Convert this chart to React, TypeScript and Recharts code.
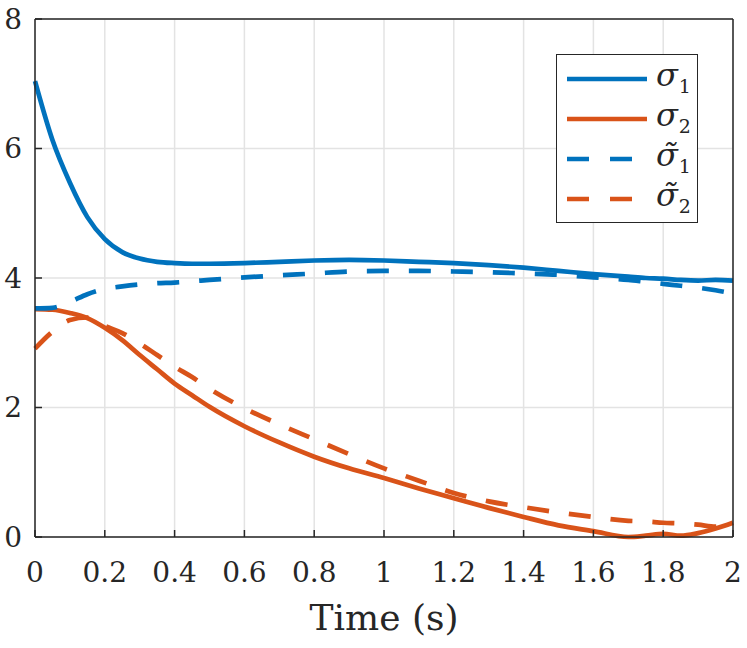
import { LineChart, Line, XAxis, YAxis, CartesianGrid, Legend } from 'recharts';

// sample times (s)
const time = [
  0, 0.05, 0.1, 0.15, 0.2, 0.25, 0.3, 0.35, 0.4, 0.45, 0.5, 0.6, 0.7, 0.8, 0.9,
  1.0, 1.1, 1.2, 1.3, 1.4, 1.5, 1.6, 1.7, 1.75, 1.8, 1.85, 1.9, 1.95, 2.0,
];
const sigma1 = [
  7.04, 6.13, 5.47, 4.94, 4.6, 4.4, 4.3, 4.25, 4.23, 4.22, 4.22, 4.23, 4.25, 4.27, 4.28,
  4.27, 4.25, 4.23, 4.2, 4.16, 4.11, 4.06, 4.02, 4.0, 3.99, 3.97, 3.96, 3.97, 3.96,
];
const sigma2 = [
  3.52, 3.51, 3.46, 3.38, 3.23, 3.04, 2.81, 2.59, 2.37, 2.19, 2.01, 1.71, 1.46, 1.24, 1.06,
  0.91, 0.75, 0.6, 0.45, 0.31, 0.18, 0.09, 0.0, 0.02, 0.05, 0.02, 0.06, 0.13, 0.22,
];
const sigma1Est = [
  3.53, 3.54, 3.63, 3.75, 3.83, 3.87, 3.9, 3.92, 3.93, 3.95, 3.97, 4.01, 4.04, 4.07, 4.1,
  4.11, 4.11, 4.1, 4.09, 4.07, 4.05, 4.01, 3.97, 3.94, 3.91, 3.88, 3.85, 3.81, 3.76,
];
const sigma2Est = [
  2.91, 3.17, 3.35, 3.39, 3.26, 3.15, 2.99, 2.81, 2.63, 2.47, 2.29, 1.99, 1.74, 1.51, 1.28,
  1.06, 0.87, 0.68, 0.55, 0.46, 0.38, 0.31, 0.25, 0.24, 0.22, 0.21, 0.19, 0.16, 0.17,
];

const xTicks = [0, 0.2, 0.4, 0.6, 0.8, 1, 1.2, 1.4, 1.6, 1.8, 2];
const yTicks = [0, 2, 4, 6, 8];

const data = time.map((t, i) => ({
  t,
  s1: sigma1[i],
  s2: sigma2[i],
  s1e: sigma1Est[i],
  s2e: sigma2Est[i],
}));

const BLUE = '#0072BD';
const ORANGE = '#D95319';
const INK = '#262626';
const FONT = '"DejaVu Serif", serif';
const DASH = '22 20';
const LW = 4.7;

const legendRows = [
  { key: 's1', color: BLUE, dashed: false, tilde: false, sub: '1' },
  { key: 's2', color: ORANGE, dashed: false, tilde: false, sub: '2' },
  { key: 's1e', color: BLUE, dashed: true, tilde: true, sub: '1' },
  { key: 's2e', color: ORANGE, dashed: true, tilde: true, sub: '2' },
];

const LegendBox = () => (
  <div
    style={{
      boxSizing: 'border-box',
      width: 142,
      height: 169,
      border: `1.5px solid ${INK}`,
      background: '#fff',
      paddingTop: 4,
    }}
  >
    {legendRows.map((r) => (
      <div key={r.key} style={{ display: 'flex', alignItems: 'center', height: 40 }}>
        <svg width={80} height={8} style={{ marginLeft: 10, display: 'block' }}>
          <line
            x1={0} y1={4} x2={80} y2={4}
            stroke={r.color}
            strokeWidth={LW}
            strokeDasharray={r.dashed ? '22 21' : undefined}
          />
        </svg>
        <span
          style={{
            marginLeft: 9,
            fontFamily: FONT,
            fontSize: 32,
            fontStyle: 'italic',
            color: INK,
            lineHeight: 1,
            position: 'relative',
            top: -4,
            whiteSpace: 'nowrap',
          }}
        >
          {r.tilde ? 'σ\u0303' : 'σ'}
          <span style={{ fontSize: 19, fontStyle: 'normal', position: 'relative', top: 7, marginLeft: 1 }}>{r.sub}</span>
        </span>
      </div>
    ))}
  </div>
);

const tickStyle = { fill: INK, fontSize: 28, fontFamily: FONT };

export default function App() {
  return (
    <div style={{ position: 'absolute', left: 0, top: 0, background: '#fff' }}>
      <LineChart
        width={747}
        height={648}
        data={data}
        margin={{ top: 18, right: 13, left: 0, bottom: 0 }}
      >
        <CartesianGrid stroke="#e3e3e3" strokeWidth={1.5} />
        <XAxis
          dataKey="t"
          type="number"
          domain={[0, 2]}
          ticks={xTicks}
          height={111}
          tick={tickStyle}
          tickSize={-7}
          tickMargin={32}
          axisLine={{ stroke: INK, strokeWidth: 1.5 }}
          tickLine={{ stroke: INK, strokeWidth: 1.5 }}
          label={{
            value: 'Time (s)',
            position: 'insideBottom',
            offset: 18,
            style: { fill: INK, fontSize: 36, fontFamily: FONT },
          }}
        />
        <XAxis
          xAxisId="top"
          orientation="top"
          dataKey="t"
          type="number"
          domain={[0, 2]}
          ticks={xTicks}
          height={1}
          tick={false}
          tickSize={-7}
          axisLine={{ stroke: INK, strokeWidth: 1.5 }}
          tickLine={{ stroke: INK, strokeWidth: 1.5 }}
        />
        <YAxis
          type="number"
          domain={[0, 8]}
          ticks={yTicks}
          width={35}
          tick={tickStyle}
          tickSize={-7}
          tickMargin={20}
          axisLine={{ stroke: INK, strokeWidth: 1.5 }}
          tickLine={{ stroke: INK, strokeWidth: 1.5 }}
        />
        <YAxis
          yAxisId="right"
          orientation="right"
          type="number"
          domain={[0, 8]}
          ticks={yTicks}
          width={1}
          tick={false}
          tickSize={-7}
          axisLine={{ stroke: INK, strokeWidth: 1.5 }}
          tickLine={{ stroke: INK, strokeWidth: 1.5 }}
        />
        <Legend
          layout="vertical"
          align="center"
          verticalAlign="middle"
          wrapperStyle={{ left: 556, top: 54, width: 142, height: 169 }}
          content={() => <LegendBox />}
        />
        <Line type="monotone" dataKey="s1" stroke={BLUE} strokeWidth={LW} dot={false} isAnimationActive={false} />
        <Line type="monotone" dataKey="s2" stroke={ORANGE} strokeWidth={LW} dot={false} isAnimationActive={false} />
        <Line type="monotone" dataKey="s1e" stroke={BLUE} strokeWidth={LW} strokeDasharray={DASH} dot={false} isAnimationActive={false} />
        <Line type="monotone" dataKey="s2e" stroke={ORANGE} strokeWidth={LW} strokeDasharray={DASH} dot={false} isAnimationActive={false} />
      </LineChart>
    </div>
  );
}
